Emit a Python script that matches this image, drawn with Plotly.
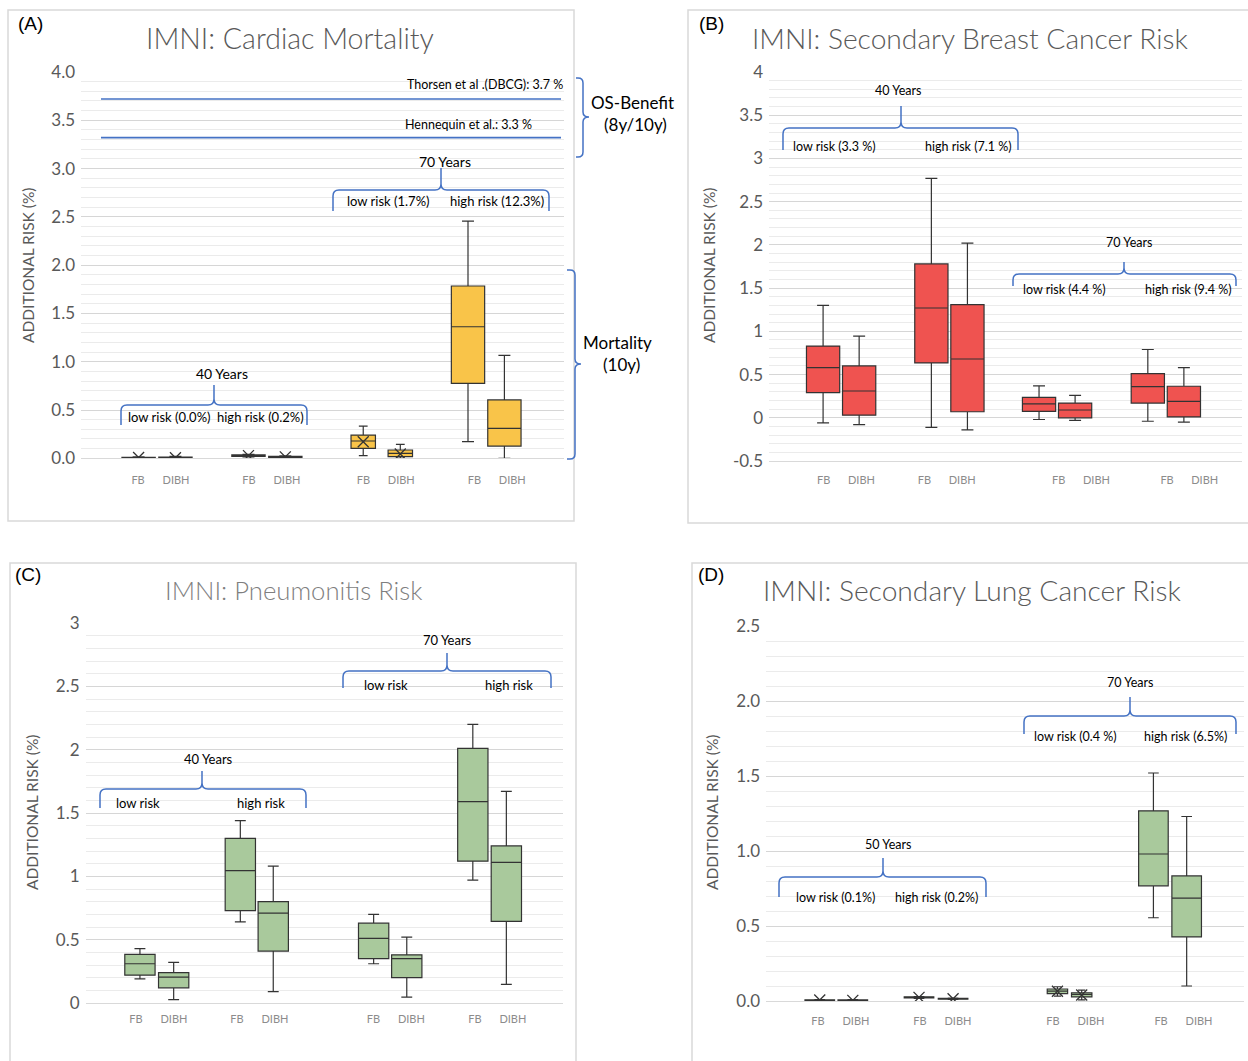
import plotly.graph_objects as go

W, H = 1248, 1061

# ---------------- data ----------------
methods = ["FB", "DIBH"]
# box order in every panel:
# [younger low FB, younger low DIBH, younger high FB, younger high DIBH,
#  70y low FB, 70y low DIBH, 70y high FB, 70y high DIBH]

cardiac_q1 = [0.000, 0.000, 0.020, 0.010, 0.103, 0.017, 0.776, 0.127]
cardiac_median = [0.005, 0.004, 0.027, 0.014, 0.179, 0.050, 1.362, 0.310]
cardiac_q3 = [0.010, 0.012, 0.035, 0.020, 0.241, 0.086, 1.784, 0.604]
cardiac_low = [0.000, 0.000, 0.015, 0.008, 0.027, 0.000, 0.172, 0.000]
cardiac_high = [0.015, 0.020, 0.040, 0.025, 0.334, 0.145, 2.456, 1.066]
cardiac_mean = [0.008, 0.006, 0.028, 0.015, 0.172, 0.045, None, None]
os_benefit = [3.72, 3.32]  # Thorsen et al. (DBCG), Hennequin et al.

breast_q1 = [0.29, 0.03, 0.635, 0.07, 0.075, 0.00, 0.17, 0.01]
breast_median = [0.58, 0.31, 1.27, 0.68, 0.16, 0.09, 0.36, 0.19]
breast_q3 = [0.83, 0.60, 1.78, 1.31, 0.235, 0.17, 0.51, 0.365]
breast_low = [-0.06, -0.08, -0.11, -0.14, -0.02, -0.03, -0.04, -0.05]
breast_high = [1.30, 0.945, 2.77, 2.02, 0.37, 0.26, 0.79, 0.58]
breast_mean = [None] * 8

pneumo_q1 = [0.22, 0.12, 0.73, 0.41, 0.35, 0.20, 1.12, 0.645]
pneumo_median = [0.31, 0.205, 1.045, 0.71, 0.51, 0.35, 1.59, 1.11]
pneumo_q3 = [0.384, 0.24, 1.30, 0.80, 0.63, 0.38, 2.01, 1.24]
pneumo_low = [0.19, 0.026, 0.64, 0.09, 0.31, 0.047, 0.97, 0.147]
pneumo_high = [0.43, 0.32, 1.44, 1.08, 0.70, 0.52, 2.20, 1.67]
pneumo_mean = [None] * 8

lung_q1 = [0.004, 0.003, 0.020, 0.012, 0.049, 0.027, 0.768, 0.427]
lung_median = [0.006, 0.005, 0.024, 0.015, 0.066, 0.044, 0.98, 0.686]
lung_q3 = [0.008, 0.007, 0.028, 0.018, 0.080, 0.055, 1.268, 0.834]
lung_low = [0.002, 0.001, 0.018, 0.010, 0.033, 0.007, 0.555, 0.10]
lung_high = [0.010, 0.009, 0.030, 0.020, 0.095, 0.073, 1.52, 1.23]
lung_mean = [0.007, 0.004, 0.024, 0.015, 0.065, 0.040, None, None]

# ---------------- layout helpers ----------------
GRAY = "#595959"
BLUE = "#4472C4"
FONT = "Lato"


def pp(x, y):
    return x / W, 1 - y / H


def f(x, y):
    a, b = pp(x, y)
    return f"{a:.5f},{b:.5f}"


def brace_h(x1, x2, xm, yb, ye, yn, r=6):
    return (f"M{f(x1, ye)} L{f(x1, yb + r)} Q{f(x1, yb)} {f(x1 + r, yb)} "
            f"L{f(xm - r, yb)} Q{f(xm, yb)} {f(xm, yb - r)} L{f(xm, yn)} "
            f"L{f(xm, yb - r)} Q{f(xm, yb)} {f(xm + r, yb)} "
            f"L{f(x2 - r, yb)} Q{f(x2, yb)} {f(x2, yb + r)} L{f(x2, ye)}")


def brace_v(y1, y2, ym, xe, xb, xn, r=5):
    return (f"M{f(xe, y1)} L{f(xb - r, y1)} Q{f(xb, y1)} {f(xb, y1 + r)} "
            f"L{f(xb, ym - r)} Q{f(xb, ym)} {f(xn, ym)} Q{f(xb, ym)} {f(xb, ym + r)} "
            f"L{f(xb, y2 - r)} Q{f(xb, y2)} {f(xb - r, y2)} L{f(xe, y2)}")


panels = [
    dict(title="IMNI: Cardiac Mortality", letter="(A)", color="#F9C449",
         q1=cardiac_q1, med=cardiac_median, q3=cardiac_q3, lo=cardiac_low, hi=cardiac_high, mean=cardiac_mean,
         xpx=(81, 564), ypx=(72, 458.3), yr=(0, 4), fmt=".1f",
         xr=(-0.685, 3.667), label_c=[0, 1, 2.03, 3.03], label_h=0.171,
         box_c=[0, 0.99, 2.025, 2.966], box_h=[0.166, 0.166, 0.167, 0.164], widths=[0.30, 0.30, 0.22, 0.30],
         standoff=11, title_xy=(290, 38), title_size=28.5, title_color=GRAY, letter_xy=(30, 24), ytitle_xy=(28, 265)),
    dict(title="IMNI: Secondary Breast Cancer Risk", letter="(B)", color="#EF5350",
         q1=breast_q1, med=breast_median, q3=breast_q3, lo=breast_low, hi=breast_high, mean=breast_mean,
         xpx=(769, 1242), ypx=(72, 461), yr=(-0.5, 4), fmt="g",
         xr=(-0.731, 3.965), label_c=[0, 1, 2.333, 3.408], label_h=0.187,
         box_c=[-0.015, 1.06, 2.129, 3.209], box_h=[0.179] * 4, widths=[0.33] * 4,
         standoff=9, title_xy=(970, 38), title_size=28.2, title_color=GRAY, letter_xy=(711, 24), ytitle_xy=(709, 265)),
    dict(title="IMNI: Pneumonitis Risk", letter="(C)", color="#A9C99C",
         q1=pneumo_q1, med=pneumo_median, q3=pneumo_q3, lo=pneumo_low, hi=pneumo_high, mean=pneumo_mean,
         xpx=(85.6, 562.5), ypx=(623, 1003), yr=(0, 3), fmt="g",
         xr=(-0.687, 4.035), label_c=[0, 1, 2.351, 3.356], label_h=0.188,
         box_c=[0.018, 1.008, 2.329, 3.313], box_h=[0.167, 0.163, 0.164, 0.166], widths=[0.30] * 4,
         standoff=6, title_xy=(293, 590), title_size=25.7, title_color="#7F7F7F", letter_xy=(28, 574), ytitle_xy=(32, 812)),
    dict(title="IMNI: Secondary Lung Cancer Risk", letter="(D)", color="#A9C99C",
         q1=lung_q1, med=lung_median, q3=lung_q3, lo=lung_low, hi=lung_high, mean=lung_mean,
         xpx=(766, 1244), ypx=(626, 1001), yr=(0, 2.5), fmt=".1f",
         xr=(-0.696, 3.99), label_c=[0, 1, 2.304, 3.363], label_h=0.186,
         box_c=[-0.007, 0.971, 2.28, 3.265], box_h=[0.162, 0.167, 0.119, 0.163], widths=[0.29, 0.29, 0.20, 0.29],
         standoff=10, title_xy=(972, 590), title_size=28.2, title_color=GRAY, letter_xy=(711, 574), ytitle_xy=(712, 812)),
]

fig = go.Figure()
annotations = []
shapes = []

for i, p in enumerate(panels):
    n = "" if i == 0 else str(i + 1)
    xa, ya = "x" + n, "y" + n
    for k in range(8):
        g, side = divmod(k, 2)
        pos = p["box_c"][g] + (1 if side else -1) * p["box_h"][g]
        fig.add_trace(go.Box(
            x=[pos], q1=[p["q1"][k]], median=[p["med"][k]], q3=[p["q3"][k]],
            lowerfence=[p["lo"][k]], upperfence=[p["hi"][k]],
            width=p["widths"][g], whiskerwidth=0.36, boxpoints=False,
            fillcolor=p["color"], line=dict(color="#333333", width=1.2),
            xaxis=xa, yaxis=ya, showlegend=False, hoverinfo="skip"))
    mx, my = [], []
    for k in range(8):
        if p["mean"][k] is not None:
            g, side = divmod(k, 2)
            mx.append(p["box_c"][g] + (1 if side else -1) * p["box_h"][g])
            my.append(p["mean"][k])
    if mx:
        fig.add_trace(go.Scatter(x=mx, y=my, mode="markers", xaxis=xa, yaxis=ya,
                                 marker=dict(symbol="x-thin", size=11, line=dict(color="#333333", width=1.3)),
                                 showlegend=False, hoverinfo="skip"))

    y0, y1 = p["yr"]
    yt = [round(y0 + 0.5 * j, 2) for j in range(int(round((y1 - y0) / 0.5)) + 1)]
    ytext = [format(v, p["fmt"]) for v in yt]
    tv, tt = [], []
    for c in p["label_c"]:
        tv += [c - p["label_h"], c + p["label_h"]]
        tt += methods
    fig.update_layout(**{
        ("xaxis" + n): dict(domain=[p["xpx"][0] / W, p["xpx"][1] / W], range=list(p["xr"]), anchor=ya,
                            tickmode="array", tickvals=tv, ticktext=tt, ticks="", showgrid=False,
                            zeroline=False, showline=True, linecolor="#D9D9D9", linewidth=1.3,
                            tickfont=dict(family=FONT, size=11, color="#8C8C8C"), automargin=False,
                            ticklabelstandoff=p["standoff"], fixedrange=True),
        ("yaxis" + n): dict(domain=[1 - p["ypx"][1] / H, 1 - p["ypx"][0] / H], range=[y0, y1], anchor=xa,
                            tickmode="array", tickvals=yt, ticktext=ytext, ticks="", automargin=False,
                            showgrid=True, gridcolor="#D6D6D6", gridwidth=1.2, zeroline=False, showline=False,
                            minor=dict(dtick=0.1, tick0=0, showgrid=True, gridcolor="#EBEBEB", gridwidth=1),
                            tickfont=dict(family=FONT, size=17, color=GRAY),
                            ticklabelstandoff=5, fixedrange=True),
    })
    tx, ty = pp(*p["title_xy"])
    annotations.append(dict(text=p["title"], x=tx, y=ty, xref="paper", yref="paper", showarrow=False,
                            xanchor="center", yanchor="middle",
                            font=dict(family=FONT, size=p["title_size"], color=p["title_color"], weight=300)))
    lx, ly = pp(*p["letter_xy"])
    annotations.append(dict(text=p["letter"], x=lx, y=ly, xref="paper", yref="paper", showarrow=False,
                            xanchor="center", yanchor="middle",
                            font=dict(family="Liberation Sans", size=19, color="black")))
    ax_, ay_ = pp(*p["ytitle_xy"])
    annotations.append(dict(text="ADDITIONAL RISK (%)", x=ax_, y=ay_, xref="paper", yref="paper",
                            showarrow=False, textangle=-90, xanchor="center", yanchor="middle",
                            font=dict(family=FONT, size=15.5, color=GRAY)))

# panel frames
for (x0, y0_, x1, y1_) in [(8, 10, 574, 521), (688, 10, 1252, 523), (10, 563, 576, 1065), (692, 563, 1252, 1065)]:
    a0, b1 = pp(x0, y0_)
    a1, b0 = pp(x1, y1_)
    shapes.append(dict(type="rect", xref="paper", yref="paper", x0=a0, x1=a1, y0=b0, y1=b1,
                       line=dict(color="#D9D9D9", width=1.5), layer="below"))

# OS-benefit reference lines (panel A)
for v in os_benefit:
    fig.add_trace(go.Scatter(x=[-0.505, 3.64], y=[v, v], mode="lines", line=dict(color=BLUE, width=1.6),
                             xaxis="x", yaxis="y", showlegend=False, hoverinfo="skip"))


def text(t, x, y, size=13, anchor="center", color="black"):
    a, b = pp(x, y)
    annotations.append(dict(text=t, x=a, y=b, xref="paper", yref="paper", showarrow=False,
                            xanchor=anchor, yanchor="middle", font=dict(family=FONT, size=size, color=color)))


def hbrace(x1, x2, xm, yb, ye, yn):
    shapes.append(dict(type="path", xref="paper", yref="paper", path=brace_h(x1, x2, xm, yb, ye, yn),
                       line=dict(color=BLUE, width=1.5)))


def vbrace(y1, y2, ym, xe, xb, xn):
    shapes.append(dict(type="path", xref="paper", yref="paper", path=brace_v(y1, y2, ym, xe, xb, xn),
                       line=dict(color=BLUE, width=1.5)))


# Panel A annotations
text("Thorsen et al .(DBCG): 3.7 %", 565, 84, 12.5, anchor="right")
text("Hennequin et al.: 3.3 %", 468, 125, 12.5)
text("70 Years", 445, 161, 14)
hbrace(333, 549, 441, 190, 211, 168)
text("low risk (1.7%)", 388, 201, 13)
text("high risk (12.3%)", 497, 201, 13)
text("40 Years", 222, 374, 14)
hbrace(121, 307, 214, 405, 425, 385)
text("low risk (0.0%)", 170, 417, 13)
text("high risk (0.2%)", 260, 417, 13)
vbrace(78, 157, 117, 576, 583, 589)
text("OS-Benefit", 632, 102, 17)
text("(8y/10y)", 635, 124, 17)
vbrace(270, 459, 364, 567, 575, 581)
text("Mortality", 617, 343, 17)
text("(10y)", 621, 365, 17)

# Panel B annotations
text("40 Years", 898, 91, 12.5)
hbrace(783, 1018, 901, 128, 150, 106)
text("low risk (3.3 %)", 834, 147, 12.5)
text("high risk (7.1 %)", 968, 147, 12.5)
text("70 Years", 1129, 242, 12.5)
hbrace(1013, 1236, 1124, 274, 286, 262)
text("low risk (4.4 %)", 1064, 289, 12.5)
text("high risk (9.4 %)", 1188, 289, 12.5)

# Panel C annotations
text("70 Years", 447, 640, 13)
hbrace(343, 551, 447, 671, 688, 653)
text("low risk", 386, 685, 13)
text("high risk", 509, 685, 13)
text("40 Years", 208, 759, 13)
hbrace(100, 306, 202, 789, 808, 771)
text("low risk", 138, 803, 13)
text("high risk", 261, 803, 13)

# Panel D annotations
text("70 Years", 1130, 682, 12.5)
hbrace(1024, 1236, 1130, 716, 734, 697)
text("low risk (0.4 %)", 1075, 736, 12.5)
text("high risk (6.5%)", 1185, 736, 12.5)
text("50 Years", 888, 844, 12.5)
hbrace(779, 986, 883, 877, 897, 858)
text("low risk (0.1%)", 836, 897, 12.5)
text("high risk (0.2%)", 936, 897, 12.5)

fig.update_layout(width=W, height=H, margin=dict(l=0, r=0, t=0, b=0, autoexpand=False),
                  paper_bgcolor="white", plot_bgcolor="white", boxmode="overlay",
                  annotations=annotations, shapes=shapes, showlegend=False)

fig.write_html("out.html", config={"displayModeBar": False},
               post_script="document.body.style.margin='0';")
